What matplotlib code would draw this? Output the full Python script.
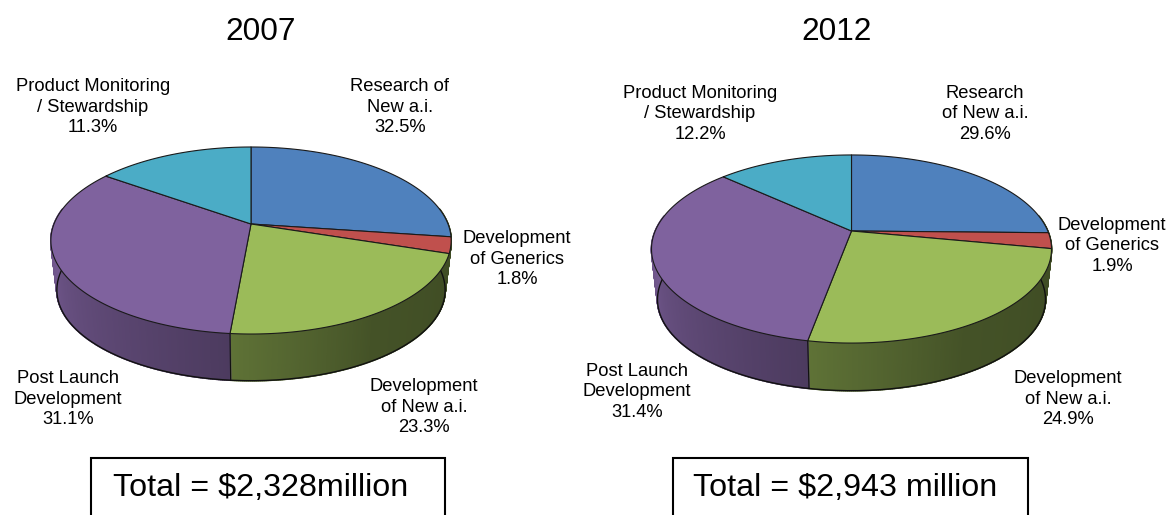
import numpy as np
import matplotlib
matplotlib.use('Agg')
import matplotlib.pyplot as plt

plt.rcParams['font.family'] = ['Liberation Sans', 'DejaVu Sans']

# printed percentages
years = ['2007', '2012']
pct_2007 = ['32.5%', '1.8%', '23.3%', '31.1%', '11.3%']
pct_2012 = ['29.6%', '1.9%', '24.9%', '31.4%', '12.2%']
totals = ['Total = $2,328million', 'Total = $2,943 million']

# slice shares as drawn (the drawn pies do not follow the printed numbers)
share_2007 = [27.2, 2.8, 21.4, 33.5, 15.1]
share_2012 = [25.3, 2.7, 24.9, 33.9, 13.2]

names_2007 = ['Research of\nNew a.i.', 'Development\nof Generics', 'Development\nof New a.i.',
              'Post Launch\nDevelopment', 'Product Monitoring\n/ Stewardship']
names_2012 = ['Research\nof New a.i.', 'Development\nof Generics', 'Development\nof New a.i.',
              'Post Launch\nDevelopment', 'Product Monitoring\n/ Stewardship']

colors = ['#4f81bd', '#c0504d', '#9bbb59', '#7f629e', '#4bacc6']

# layout, in pixels
label_xy_2007 = [(400, 107), (517, 259), (424, 407), (68, 399), (93, 107)]
label_xy_2012 = [(985, 114), (1112, 246), (1068, 399), (637, 392), (700, 114)]


def shade(i, f):
	# how dark the side wall gets along a slice, f runs left to right
	if i == 3:
		return np.interp(f, [0, 1], [0.95, 0.6])
	return np.interp(f, [0, 0.35, 1], [0.61, 0.44, 0.39])


def draw_pie(ax, shares, ox, oy, a, b, k, depth):
	def rim(th, s=1.0, d=0.0):
		u, v = np.sin(th), -np.cos(th)
		w = 1 - k * v
		return ox + s * a * u / w, oy + s * b * v / w + d

	edges = np.radians(np.cumsum([0] + shares) / np.sum(shares) * 360)
	wall_lo, wall_hi = np.radians(80), np.radians(280)

	# side wall: only green and purple show, green wraps round to the right edge
	for i in [2, 3]:
		lo = wall_lo if i == 2 else edges[i]
		hi = min(edges[i + 1], wall_hi)
		n = int(np.degrees(hi - lo)) * 2 + 2
		ths = np.linspace(lo, hi, n)
		base = np.array(matplotlib.colors.to_rgb(colors[i]))
		for j in range(n - 1):
			t = ths[j:j + 2]
			x1, y1 = rim(t)
			x2, y2 = rim(t[::-1], 0.97, depth)
			c = base * shade(i, 1 - j / (n - 2))
			ax.fill(np.r_[x1, x2], np.r_[y1, y2], color=c, lw=1.2, zorder=2)

	# divider on the wall
	x1, y1 = rim(edges[3])
	x2, y2 = rim(edges[3], 0.97, depth)
	ax.plot([x1, x2], [y1, y2], color='#111111', lw=0.8, zorder=3)

	# bottom outline
	t = np.linspace(wall_lo, wall_hi, 300)
	x2, y2 = rim(t, 0.97, depth)
	ax.plot(x2, y2, color='#111111', lw=1.0, zorder=3)

	# top face
	for i in range(len(shares)):
		t = np.linspace(edges[i], edges[i + 1], 200)
		x, y = rim(t)
		ax.fill(np.r_[ox, x], np.r_[oy, y], facecolor=colors[i], edgecolor='#1a1a1a', lw=0.8, zorder=4, joinstyle='round')


fig = plt.figure(figsize=(11.69, 5.15), dpi=100)
ax = fig.add_axes([0, 0, 1, 1])
ax.set_xlim(0, 1169)
ax.set_ylim(515, 0)
ax.axis('off')

draw_pie(ax, share_2007, 251, 224, 197, 90.6, 0.1765, 50)
draw_pie(ax, share_2012, 851.5, 231, 196.3, 90.6, 0.1915, 51)

for names, pct, xy in [(names_2007, pct_2007, label_xy_2007), (names_2012, pct_2012, label_xy_2012)]:
	for n, p, (x, y) in zip(names, pct, xy):
		ax.text(x, y, n + '\n' + p, ha='center', va='center', fontsize=13.2, color='black', linespacing=1.27)

ax.text(261, 32, years[0], ha='center', va='center', fontsize=22.8)
ax.text(837, 32, years[1], ha='center', va='center', fontsize=22.8)

# boxes, cut off by the bottom of the picture
for x0, x1, label, tx in [(91, 445, totals[0], 113), (673, 1028, totals[1], 693)]:
	ax.plot([x0, x0, x1, x1], [515, 458, 458, 515], color='black', lw=1.5, clip_on=True, solid_joinstyle='miter')
	ax.text(tx, 488, label, ha='left', va='center', fontsize=23.2)

fig.savefig('out.png', dpi=100)
